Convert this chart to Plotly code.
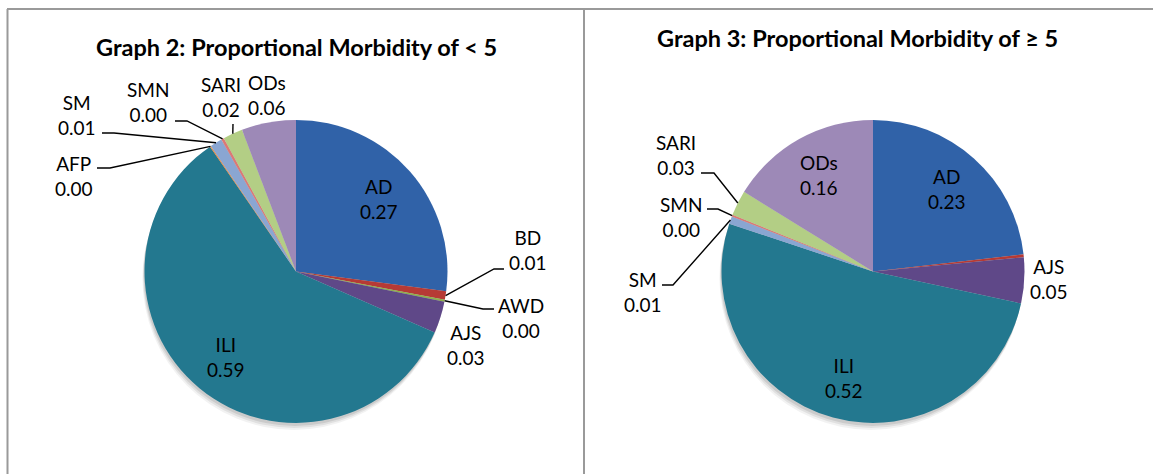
import math
import plotly.graph_objects as go

# ---------------- data ----------------
labels_u5 = ["AD", "BD", "AWD", "AJS", "ILI", "AFP", "SM", "SMN", "SARI", "ODs"]
values_u5 = [0.271, 0.009, 0.002, 0.034, 0.588, 0.001, 0.013, 0.003, 0.021, 0.058]

labels_o5 = ["AD", "BD", "AJS", "ILI", "SM", "SMN", "SARI", "ODs"]
values_o5 = [0.232, 0.003, 0.049, 0.517, 0.008, 0.002, 0.027, 0.162]

title_u5 = "Graph 2: Proportional Morbidity of < 5"
title_o5 = "Graph 3: Proportional Morbidity of ≥ 5"

# ---------------- styles ----------------
W, H = 1153, 474
FONT = "Lato, Calibri, 'Open Sans', sans-serif"
LABEL_SIZE = 19
TITLE_SIZE = 23.5
colors = {
    "AD": "#3062A8", "BD": "#B63A35", "AWD": "#8DB04A", "AJS": "#5F4888",
    "ILI": "#23788F", "AFP": "#F08A3A", "SM": "#8AA6D2", "SMN": "#DB7976",
    "SARI": "#B3CE85", "ODs": "#9D89B7",
}

R = 151.5
charts = [
    dict(labels=labels_u5, values=values_u5, title=title_u5, cx=296, cy=271.4, title_xy=(296, 47),
         place={
             "AD": ("in",), "ILI": ("in",),
             "BD": ("out", (528, 250), [(504, 269), (494, 269)]),
             "AWD": ("out", (521, 318), [(494, 309), (483, 309)]),
             "AJS": ("out", (466, 345), None),
             "AFP": ("out", (74, 176), [(97, 168), (110, 168)]),
             "SM": ("out", (77, 115), [(102, 133), (114, 133)]),
             "SMN": ("out", (148, 102), [(175, 121), (187, 121)]),
             "SARI": ("out", (221, 97), [(233, 124)]),
             "ODs": ("out", (267, 95), None),
         }),
    dict(labels=labels_o5, values=values_o5, title=title_o5, cx=873, cy=271.4, title_xy=(857, 38),
         place={
             "AD": ("in",), "ILI": ("in",), "ODs": ("in",),
             "AJS": ("out", (1049, 279), None),
             "SARI": ("out", (676, 155), [(701, 173), (714, 173)]),
             "SMN": ("out", (681, 217), [(707, 209), (718, 209)]),
             "SM": ("out", (643, 292), [(662, 285), (673, 285)]),
         }),
]


def px(x):
    return x / W


def py(y):
    return 1 - y / H


fig = go.Figure()
annotations = []
shapes = []

# shadows (soft, stacked)
for ch in charts:
    for off, op in [(7, 0.05), (5, 0.07), (3, 0.09)]:
        fig.add_trace(go.Pie(
            values=[1], labels=["shadow"], sort=False, textinfo="none", hoverinfo="skip",
            marker=dict(colors=[f"rgba(0,0,0,{op})"], line=dict(width=0)),
            domain=dict(x=[px(ch["cx"] - R - off * 0.3), px(ch["cx"] + R - off * 0.3)],
                        y=[py(ch["cy"] + R + off), py(ch["cy"] - R + off)]),
            showlegend=False,
        ))

for ch in charts:
    cx, cy = ch["cx"], ch["cy"]
    fig.add_trace(go.Pie(
        labels=ch["labels"], values=ch["values"], sort=False, direction="clockwise", rotation=0,
        textinfo="none", hoverinfo="label+value",
        marker=dict(colors=[colors[l] for l in ch["labels"]], line=dict(width=0)),
        domain=dict(x=[px(cx - R), px(cx + R)], y=[py(cy + R), py(cy - R)]),
        showlegend=False,
    ))
    total = sum(ch["values"])
    cum = 0.0
    for lab, v in zip(ch["labels"], ch["values"]):
        mid = (cum + v / 2) / total
        cum += v
        if lab not in ch["place"]:
            continue
        th = 2 * math.pi * mid
        dx, dy = math.sin(th), -math.cos(th)
        txt = f"{lab}<br>{v:.2f}"
        spec = ch["place"][lab]
        if spec[0] == "in":
            lx, ly = cx + 0.73 * R * dx, cy + 0.73 * R * dy
        else:
            lx, ly = spec[1]
            pts = spec[2]
            if pts:
                ex, ey = cx + R * dx, cy + R * dy
                allp = list(pts) + [(ex, ey)]
                path = "M " + " L ".join(f"{px(a):.5f},{py(b):.5f}" for a, b in allp)
                shapes.append(dict(type="path", xref="paper", yref="paper", path=path,
                                   line=dict(color="black", width=1.4)))
        annotations.append(dict(x=px(lx), y=py(ly), xref="paper", yref="paper", text=txt,
                                showarrow=False, xanchor="center", yanchor="middle",
                                font=dict(family=FONT, size=LABEL_SIZE, color="black"), align="center"))
    tx, ty = ch["title_xy"]
    annotations.append(dict(x=px(tx), y=py(ty), xref="paper", yref="paper", text=f"<b>{ch['title']}</b>",
                            showarrow=False, xanchor="center", yanchor="middle",
                            font=dict(family=FONT, size=TITLE_SIZE, color="black")))

# panel borders
border = dict(color="#9A9A9A", width=2)
shapes += [
    dict(type="line", xref="paper", yref="paper", x0=px(7), x1=1, y0=py(9), y1=py(9), line=border),
    dict(type="line", xref="paper", yref="paper", x0=px(7.5), x1=px(7.5), y0=py(9), y1=0, line=border),
    dict(type="line", xref="paper", yref="paper", x0=px(584), x1=px(584), y0=py(9), y1=0, line=border),
]

fig.update_layout(
    width=W, height=H, autosize=False,
    margin=dict(l=0, r=0, t=0, b=0),
    paper_bgcolor="white", plot_bgcolor="white",
    annotations=annotations, shapes=shapes,
    font=dict(family=FONT),
)

fig.write_html(
    "out.html",
    config={"displayModeBar": False},
    post_script="document.body.style.margin='0';document.body.style.overflow='hidden';",
)
